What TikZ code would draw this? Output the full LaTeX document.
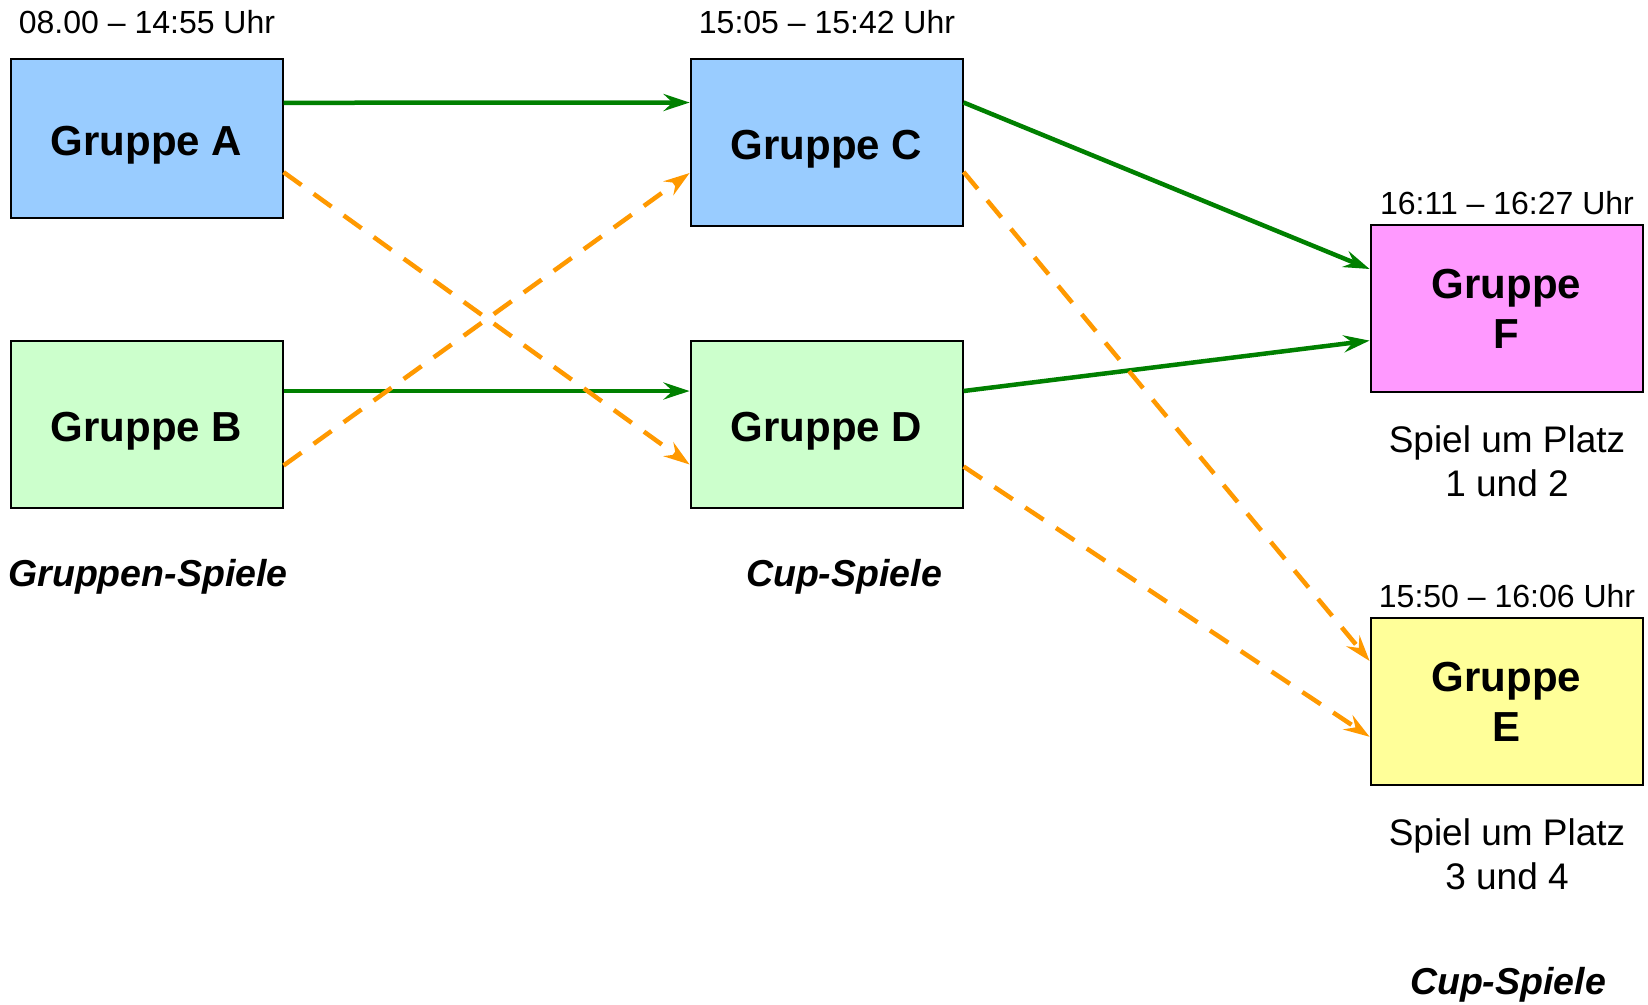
\documentclass[tikz,border=0pt]{standalone}
\usepackage{fontspec}
\setmainfont{Liberation Sans}
\usetikzlibrary{arrows.meta}
\definecolor{boxblue}{HTML}{99CCFF}
\definecolor{boxgreen}{HTML}{CCFFCC}
\definecolor{boxpink}{HTML}{FF99FF}
\definecolor{boxyellow}{HTML}{FFFF99}
\definecolor{arrowgreen}{HTML}{008000}
\definecolor{arroworange}{HTML}{FF9900}
\begin{document}
\begin{tikzpicture}[x=1pt,y=-1pt,
  grp/.style={draw=black, line width=2pt, minimum width=272pt, minimum height=167pt, inner sep=0pt,
    font=\fontsize{42}{50}\selectfont\bfseries, align=center},
  oneline/.style={text height=43pt, text depth=9pt},
  timelbl/.style={font=\fontsize{32}{38}\selectfont, anchor=base},
  note/.style={font=\fontsize{37}{44}\selectfont, align=center},
  phase/.style={font=\fontsize{37.5}{44}\selectfont\bfseries\itshape, anchor=base},
  win/.style={-{Stealth[length=26pt,width=17pt,inset=9pt]}, draw=arrowgreen, line width=4.5pt},
  lose/.style={-{Stealth[length=26pt,width=17pt,inset=9pt]}, draw=arroworange, line width=4.5pt, dash pattern=on 22pt off 15pt}
]
\useasboundingbox (0,0) rectangle (1648,1004);
\fill[white] (0,0) rectangle (1648,1004);

\node[grp, oneline, fill=boxblue, minimum height=159pt] (A) at (146.6,138.3) {Gruppe A};
\node[grp, oneline, fill=boxgreen] (B) at (146.6,424) {Gruppe B};
\node[grp, oneline, fill=boxblue] (C) at (826.6,142) {Gruppe C};
\node[grp, oneline, fill=boxgreen] (D) at (826.6,424) {Gruppe D};
\node[grp, fill=boxpink] (F) at (1506.6,308.5) {Gruppe\\F};
\node[grp, fill=boxyellow] (E) at (1506.6,701.5) {Gruppe\\E};

\node[timelbl] (tA) at (147,33.6) {08.00 – 14:55 Uhr};
\node[timelbl] (tC) at (827,33.6) {15:05 – 15:42 Uhr};
\node[timelbl] (tF) at (1507,214.4) {16:11 – 16:27 Uhr};
\node[timelbl] (tE) at (1507,607.5) {15:50 – 16:06 Uhr};

\node[note] (nF) at (1507,461) {Spiel um Platz\\1 und 2};
\node[note] (nE) at (1507,854) {Spiel um Platz\\3 und 4};

\node[phase] (p1) at (148,586.5) {Gruppen-Spiele};
\node[phase] (p2) at (844,586.5) {Cup-Spiele};
\node[phase] (p3) at (1508,994) {Cup-Spiele};

\draw[win] ([yshift=-45pt]A.north east) -- ([yshift=-45pt]C.north west);
\draw[win] ([yshift=-51.5pt]B.north east) -- ([yshift=-51.5pt]D.north west);
\draw[lose] ([yshift=-114.4pt]A.north east) -- ([yshift=-125pt]D.north west);
\draw[lose] ([yshift=-126pt]B.north east) -- ([yshift=-115.5pt]C.north west);
\draw[win] ([yshift=-45pt]C.north east) -- ([yshift=-45pt]F.north west);
\draw[win] ([yshift=-51.5pt]D.north east) -- ([yshift=-116.6pt]F.north west);
\draw[lose] ([yshift=-114.4pt]C.north east) -- ([yshift=-44pt]E.north west);
\draw[lose] ([yshift=-127pt]D.north east) -- ([yshift=-119.8pt]E.north west);
\end{tikzpicture}
\end{document}
